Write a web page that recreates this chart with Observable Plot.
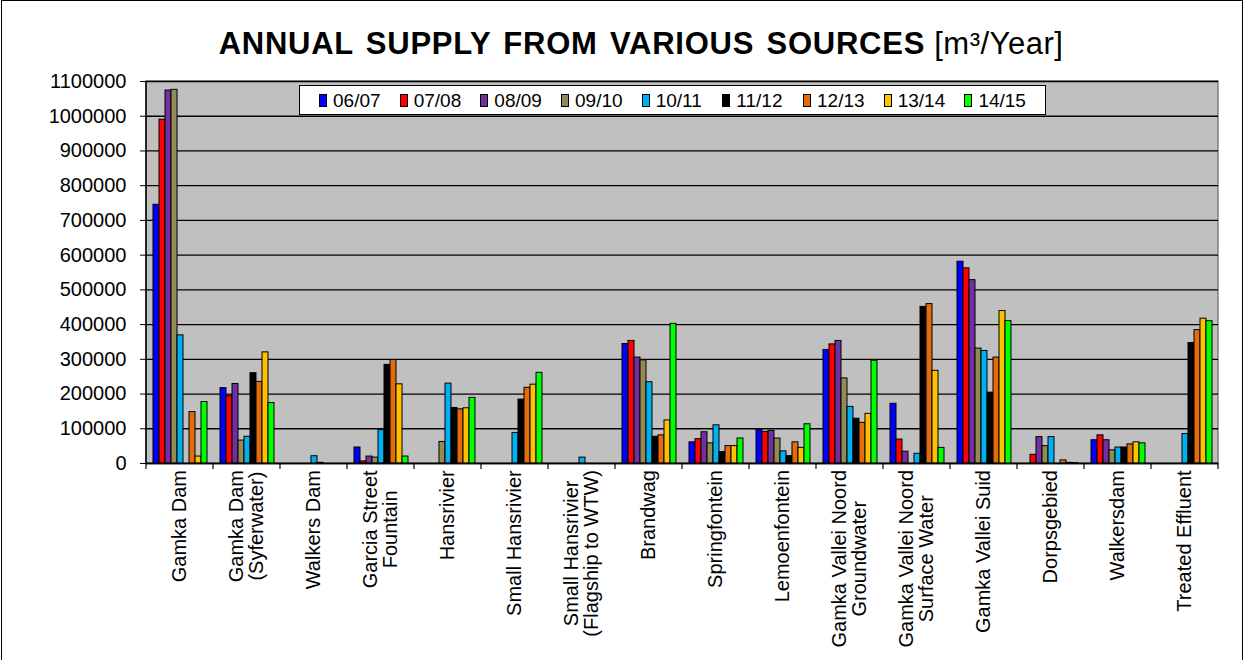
<!DOCTYPE html>
<html><head><meta charset="utf-8">
<script src="https://cdn.jsdelivr.net/npm/d3@7"></script>
<script src="https://cdn.jsdelivr.net/npm/@observablehq/plot@0.6"></script>
<style>
html,body{margin:0;padding:0;background:#fff;overflow:hidden;}
body{width:1245px;height:660px;position:relative;font-family:Arial,"Liberation Sans",sans-serif;color:#000;}
#chart{position:absolute;left:0;top:0;}
#border{position:absolute;left:1px;top:0;width:1242px;height:720px;border:1.5px solid #000;box-sizing:border-box;pointer-events:none;}
#title{position:absolute;left:141px;width:1000px;top:28px;text-align:center;font-size:31px;line-height:1;white-space:nowrap;letter-spacing:0.5px;}
#title b{letter-spacing:0.75px;word-spacing:3px;}
#legend{position:absolute;left:299px;top:85px;width:747px;height:30px;box-sizing:border-box;border:1px solid #000;background:#fff;display:flex;align-items:center;padding-left:19px;}
.item{display:flex;align-items:center;width:82px;font-size:19px;line-height:1;}
.sw{width:8px;height:13px;box-sizing:border-box;border:1px solid #000;margin-right:6px;}
</style></head><body>
<div id="chart"></div>
<div id="border"></div>
<div id="title"><b>ANNUAL SUPPLY FROM VARIOUS SOURCES</b> [m³/Year]</div>
<div id="legend"></div>
<script>
const sources = [
  "Gamka Dam", "Gamka Dam\n(Syferwater)", "Walkers Dam", "Garcia Street\nFountain",
  "Hansrivier", "Small Hansrivier", "Small Hansrivier\n(Flagship to WTW)", "Brandwag",
  "Springfontein", "Lemoenfontein", "Gamka Vallei Noord\nGroundwater", "Gamka Vallei Noord\nSurface Water",
  "Gamka Vallei Suid", "Dorpsgebied", "Walkersdam", "Treated Effluent"
];
const years = ["06/07", "07/08", "08/09", "09/10", "10/11", "11/12", "12/13", "13/14", "14/15"];
const colors = ["#0000FF", "#FF0000", "#7030A0", "#948A54", "#00B0F0", "#000000", "#E46C0A", "#FFC000", "#00FF00"];

const v0607 = [745000, 217000, 0, 46000, 0, 0, 0, 344000, 61000, 96000, 327000, 172000, 581000, 0, 67000, 0];
const v0708 = [990000, 194000, 0, 6000, 0, 0, 0, 353000, 70000, 91000, 343000, 69000, 562000, 25000, 81000, 0];
const v0809 = [1074000, 229000, 0, 20000, 0, 0, 0, 305000, 90000, 94000, 353000, 34000, 528000, 76000, 67000, 0];
const v0910 = [1076000, 66000, 0, 17000, 62000, 0, 0, 297000, 58000, 72000, 245000, 0, 331000, 50000, 38000, 0];
const v1011 = [369000, 77000, 21000, 96000, 230000, 88000, 17000, 234000, 110000, 35000, 163000, 28000, 324000, 76000, 46000, 85000];
const v1112 = [0, 260000, 2000, 284000, 160000, 184000, 0, 77000, 33000, 21000, 129000, 451000, 204000, 0, 46000, 347000];
const v1213 = [148000, 235000, 0, 298000, 156000, 218000, 0, 81000, 50000, 61000, 117000, 459000, 305000, 9000, 55000, 384000];
const v1314 = [20000, 320000, 0, 228000, 159000, 227000, 0, 124000, 50000, 45000, 143000, 267000, 439000, 2000, 61000, 417000];
const v1415 = [177000, 174000, 0, 20000, 189000, 261000, 0, 402000, 72000, 113000, 296000, 45000, 410000, 1000, 58000, 410000];
const series = [v0607, v0708, v0809, v0910, v1011, v1112, v1213, v1314, v1415];

const yTicks = d3.range(0, 1100001, 100000);

const rows = [];
years.forEach((yr, j) => sources.forEach((s, i) => {
  const v = series[j][i];
  if (v > 0) rows.push({source: s, year: yr, value: v});
}));

const chart = Plot.plot({
  width: 1245, height: 660,
  marginTop: 81, marginBottom: 197, marginLeft: 146, marginRight: 27,
  style: {fontFamily: "Arial, 'Liberation Sans', sans-serif", fontSize: "20px", background: "transparent", overflow: "visible", color: "#000"},
  fx: {domain: sources, padding: 0, axis: null, label: null},
  x: {domain: years, paddingInner: 0, paddingOuter: 0.88, axis: null, label: null},
  y: {domain: [0, 1100000], label: null},
  color: {domain: years, range: colors},
  marks: [
    Plot.ruleY(yTicks, {stroke: "#000", strokeWidth: 1.3}),
    Plot.barY(rows, {fx: "source", x: "year", y: "value", fill: "year", stroke: "#000", strokeWidth: 1}),
    Plot.ruleY([0], {stroke: "#000", strokeWidth: 1.5}),
    Plot.axisY(yTicks, {tickFormat: d => String(d), tickSize: 6, tickPadding: 14, fontSize: 20, label: null, stroke: "#000"}),
    Plot.text(sources, {fx: d => d, text: d => d, frameAnchor: "bottom", rotate: -90, textAnchor: "middle", lineAnchor: "middle", fontSize: 20, fill: "#000"})
  ]
});
document.getElementById("chart").appendChild(chart);

// plot-area decoration using the library's own scales
const svg = d3.select(chart);
const fx = chart.scale("fx"), ys = chart.scale("y");
const y0 = ys.apply(0), yTop = ys.apply(1100000);
const step = fx.step ?? ((fx.range[1] - fx.range[0]) / sources.length);
const left = fx.apply(sources[0]);
const right = left + step * sources.length;
svg.insert("rect", ":first-child")
  .attr("x", left).attr("y", yTop).attr("width", right - left).attr("height", y0 - yTop)
  .attr("fill", "#c0c0c0").attr("stroke", "#808080").attr("stroke-width", 1.5);
svg.append("line").attr("x1", left).attr("x2", left).attr("y1", yTop).attr("y2", y0)
  .attr("stroke", "#000").attr("stroke-width", 1.5);
for (let i = 0; i <= sources.length; i++) {
  const x = left + i * step;
  svg.append("line").attr("x1", x).attr("x2", x).attr("y1", y0).attr("y2", y0 + 6)
    .attr("stroke", "#000").attr("stroke-width", 1.2);
}
// top-align the rotated category labels below the axis
const svgRect = chart.getBoundingClientRect();
chart.querySelectorAll('g[aria-label="text"] text').forEach(t => {
  const r = t.getBoundingClientRect();
  const d = (y0 + 7) - (r.top - svgRect.top);
  t.setAttribute("transform", `translate(0,${d}) ` + (t.getAttribute("transform") || ""));
});

// legend
const leg = d3.select("#legend");
years.forEach((yr, i) => {
  const it = leg.append("div").attr("class", "item");
  it.append("div").attr("class", "sw").style("background", colors[i]);
  it.append("span").text(yr);
});
</script>
</body></html>
